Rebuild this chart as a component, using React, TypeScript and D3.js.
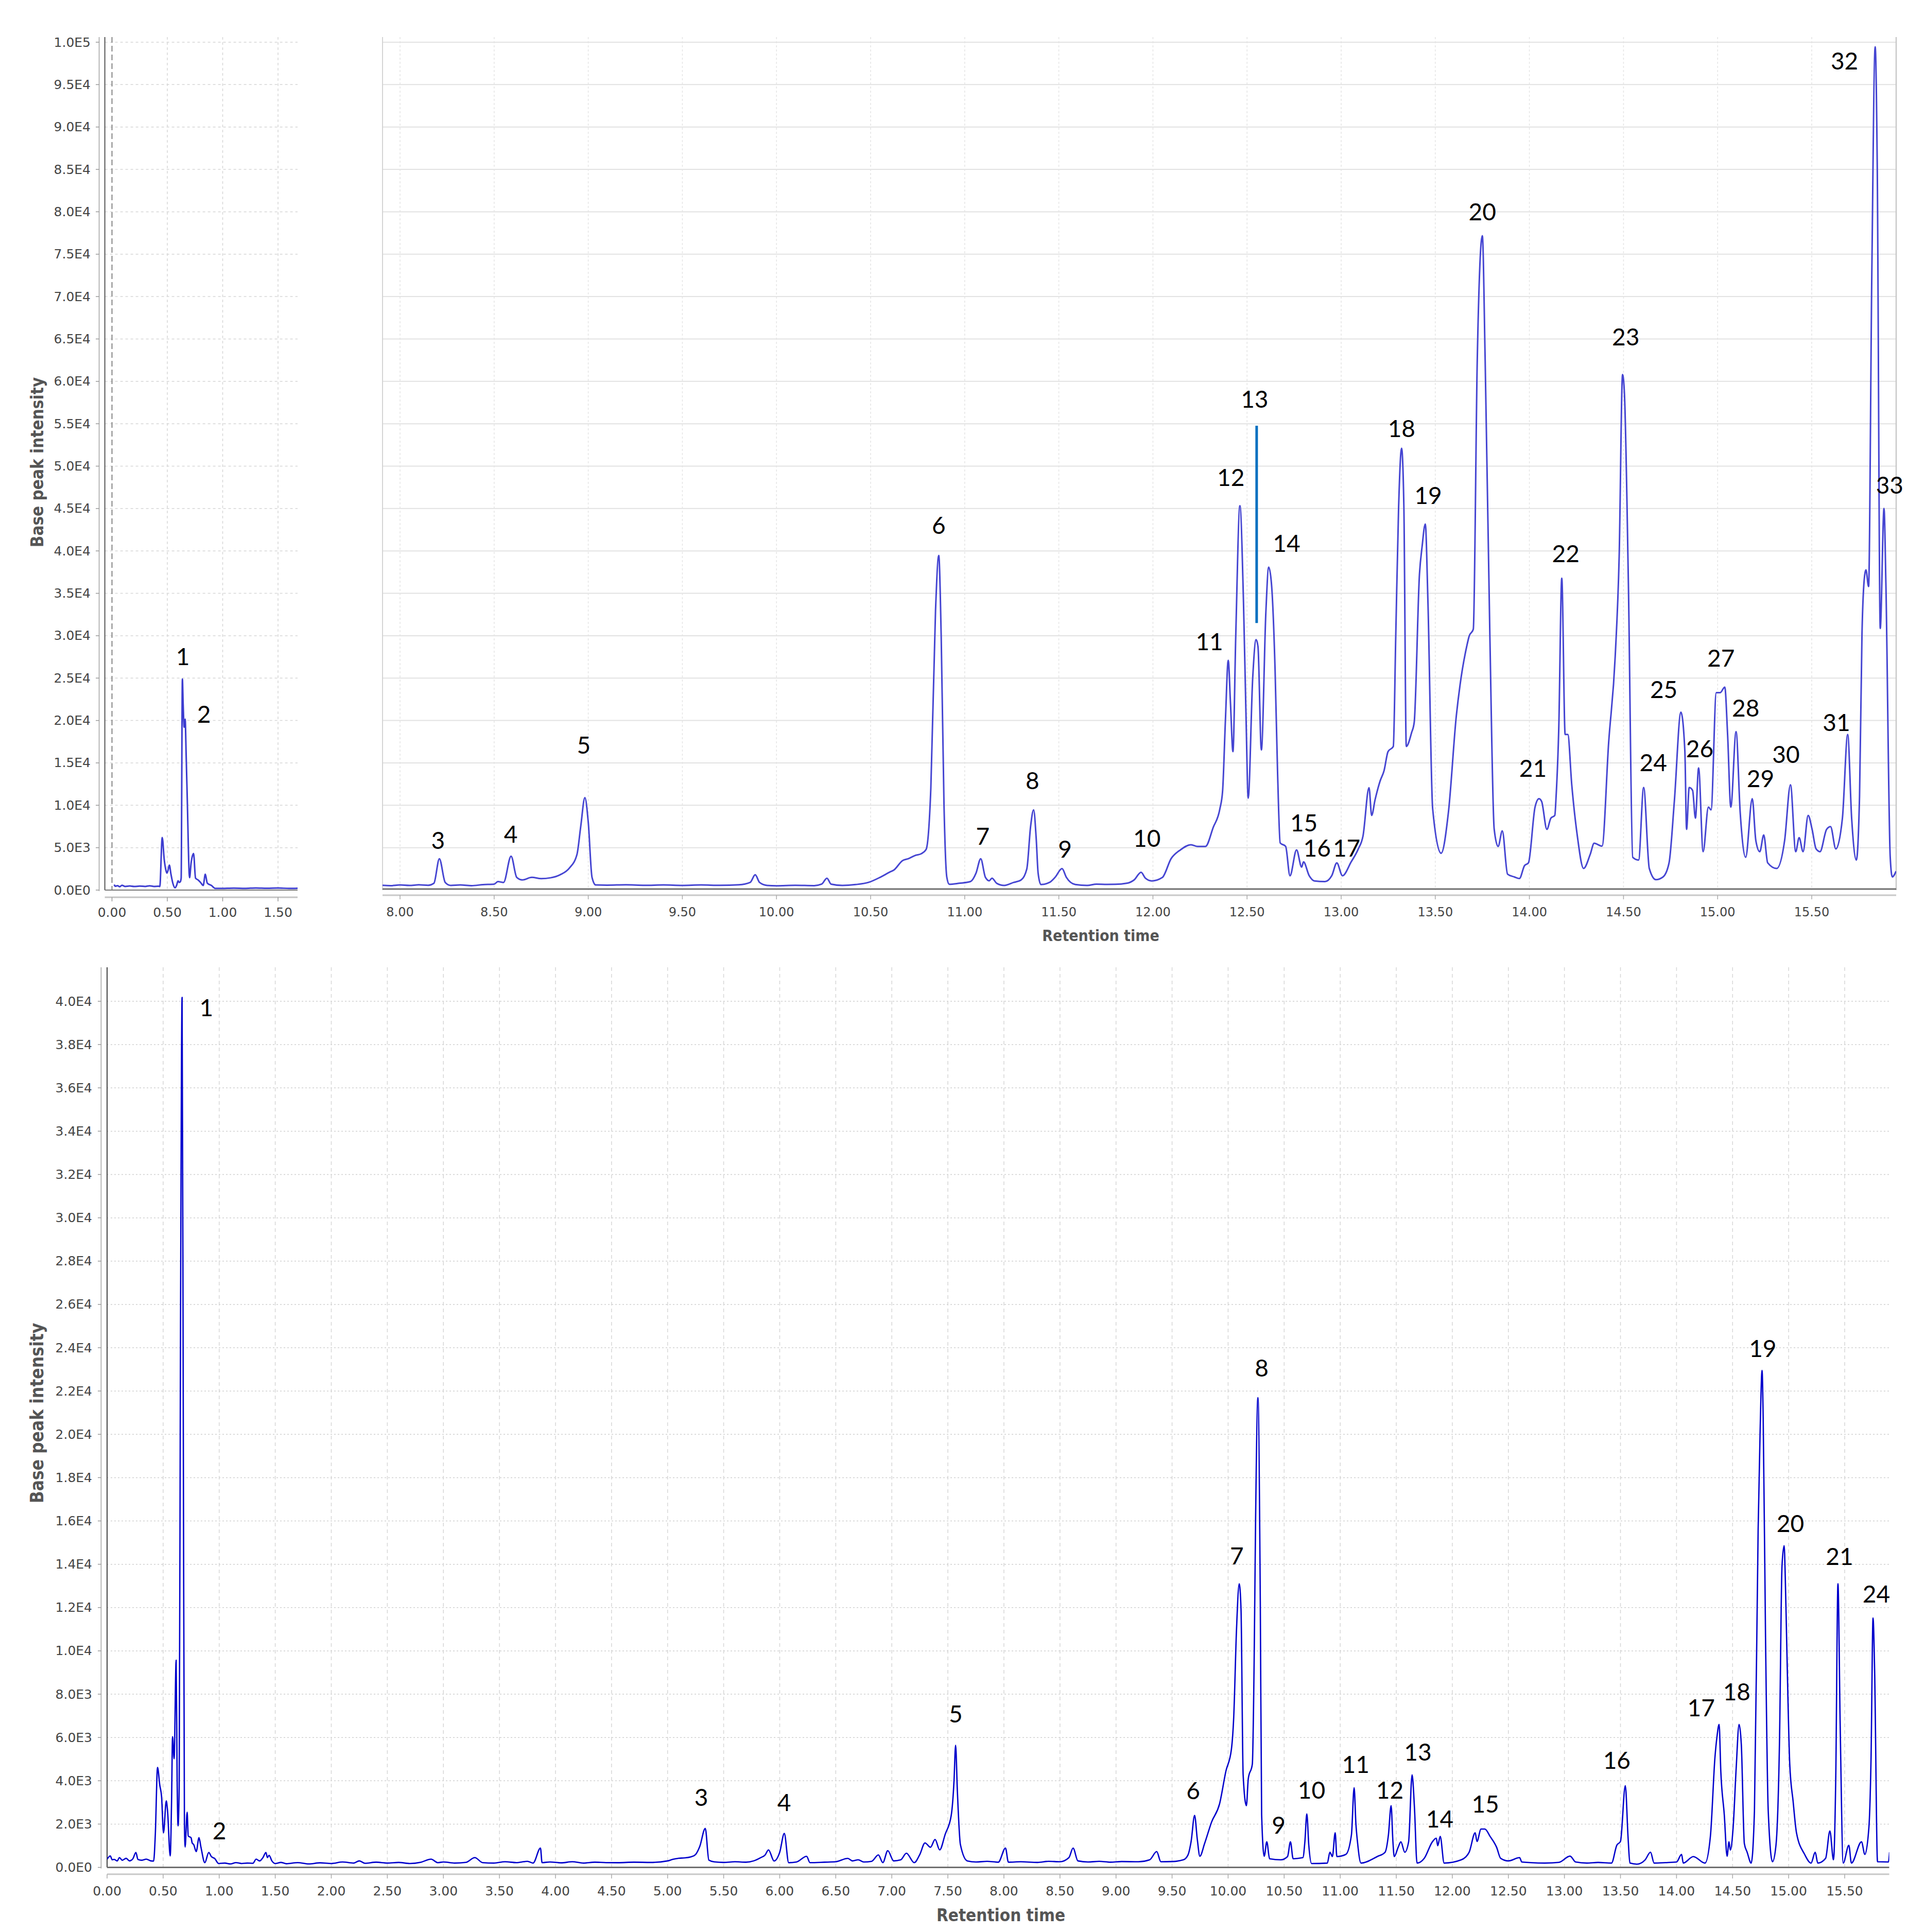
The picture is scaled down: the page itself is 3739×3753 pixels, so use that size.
import React, { useEffect } from "react";
import * as d3 from "d3";

type P = [number, number];

// ---------- DATA ----------
// Top chromatogram, 0–1.7 min window  [time (min), base peak intensity]
const topEarlyTrace: P[] = [
  [0.02, 650], [0.03, 450], [0.05, 520], [0.07, 400], [0.09, 560], [0.12, 430], [0.16, 480], [0.2, 420],
  [0.25, 470], [0.3, 430], [0.34, 500], [0.38, 430], [0.42, 450], [0.432, 430], [0.454, 6200], [0.472, 3600],
  [0.486, 2410], [0.496, 2000], [0.506, 2300], [0.518, 2950], [0.533, 1860], [0.55, 800], [0.57, 270],
  [0.585, 600], [0.597, 1090], [0.607, 900], [0.616, 960], [0.625, 1400], [0.636, 24900], [0.643, 21900],
  [0.652, 19200], [0.661, 20160], [0.67, 15960], [0.679, 11350], [0.701, 1460], [0.715, 3220], [0.737, 4310],
  [0.755, 1400], [0.778, 1190], [0.8, 900], [0.824, 540], [0.843, 1860], [0.861, 820], [0.898, 540],
  [0.935, 190], [1.0, 200], [1.1, 230], [1.2, 200], [1.3, 250], [1.4, 210], [1.5, 240], [1.6, 200], [1.677, 220],
];

// Top chromatogram, 7.9–15.95 min window
const topLateTrace: P[] = [
  [7.907, 560], [7.95, 520], [8.0, 600], [8.05, 540], [8.1, 620], [8.15, 560], [8.18, 800], [8.209, 3690],
  [8.24, 900], [8.27, 550], [8.32, 600], [8.38, 520], [8.44, 640], [8.5, 700], [8.52, 1000], [8.55, 900],
  [8.59, 3990], [8.62, 1500], [8.65, 1200], [8.7, 1500], [8.75, 1350], [8.8, 1450], [8.85, 1800], [8.9, 2600],
  [8.94, 4200], [8.96, 7500], [8.982, 10900], [9.0, 8000], [9.02, 1500], [9.04, 600], [9.1, 580], [9.2, 620],
  [9.3, 560], [9.4, 600], [9.5, 550], [9.6, 600], [9.7, 560], [9.8, 620], [9.86, 900], [9.887, 1800],
  [9.91, 900], [9.95, 550], [10.0, 500], [10.1, 560], [10.2, 520], [10.24, 700], [10.268, 1400], [10.29, 700],
  [10.35, 550], [10.42, 650], [10.488, 900], [10.55, 1500], [10.6, 2100], [10.624, 2370], [10.67, 3480],
  [10.7, 3700], [10.738, 4090], [10.77, 4300], [10.795, 4800], [10.82, 12000], [10.845, 33000], [10.862, 39460],
  [10.875, 30000], [10.89, 10000], [10.905, 1500], [10.918, 680], [10.97, 800], [11.03, 1000], [11.06, 2000],
  [11.085, 3690], [11.11, 1500], [11.13, 1100], [11.145, 1400], [11.17, 800], [11.21, 550], [11.26, 900],
  [11.3, 1200], [11.33, 2500], [11.35, 7500], [11.366, 9460], [11.38, 6000], [11.39, 2000], [11.405, 650],
  [11.45, 900], [11.48, 1500], [11.517, 2530], [11.54, 1500], [11.588, 650], [11.65, 550], [11.7, 700],
  [11.756, 674], [11.8, 680], [11.86, 800], [11.9, 1200], [11.937, 2100], [11.96, 1400], [11.993, 1080],
  [12.05, 1490], [12.097, 3730], [12.146, 4740], [12.202, 5350], [12.237, 5150], [12.279, 5150], [12.32, 7380],
  [12.356, 9620], [12.37, 11660], [12.385, 20000], [12.4, 27100], [12.412, 22000], [12.425, 16330],
  [12.44, 30000], [12.462, 45320], [12.481, 34010], [12.495, 20000], [12.506, 10840], [12.53, 25000],
  [12.548, 29540], [12.558, 28740], [12.576, 16530], [12.6, 32800], [12.615, 38080], [12.63, 36050],
  [12.649, 25880], [12.662, 14000], [12.676, 5560], [12.705, 5150], [12.728, 1690], [12.763, 4740],
  [12.79, 2710], [12.8, 3320], [12.83, 1700], [12.858, 1080], [12.914, 1000], [12.95, 1700], [12.977, 3200],
  [13.007, 1690], [13.053, 3320], [13.09, 4800], [13.116, 6380], [13.148, 12060], [13.162, 8810],
  [13.18, 10640], [13.207, 12870], [13.228, 14100], [13.249, 16330], [13.277, 16940], [13.29, 29950],
  [13.305, 45000], [13.321, 52110], [13.333, 45400], [13.346, 16940], [13.374, 18560], [13.388, 19780],
  [13.416, 37270], [13.43, 40520], [13.447, 43170], [13.461, 34010], [13.486, 9620], [13.531, 4340],
  [13.57, 9220], [13.612, 20600], [13.632, 24260], [13.667, 28740], [13.68, 29950], [13.702, 30770],
  [13.723, 62480], [13.75, 77170], [13.765, 62480], [13.79, 30000], [13.813, 7180], [13.834, 5150],
  [13.856, 6980], [13.884, 1880], [13.92, 1550], [13.947, 1360], [13.974, 2880], [13.995, 3210], [14.03, 9790],
  [14.051, 10780], [14.065, 10450], [14.093, 7160], [14.114, 8480], [14.135, 8810], [14.142, 11100],
  [14.156, 19010], [14.172, 36780], [14.19, 18350], [14.204, 18350], [14.225, 12430], [14.254, 6500],
  [14.288, 2550], [14.323, 4200], [14.344, 5520], [14.386, 5190], [14.421, 17370], [14.456, 27600],
  [14.477, 39400], [14.495, 60800], [14.505, 58500], [14.526, 36100], [14.549, 3860], [14.58, 3540],
  [14.607, 12100], [14.637, 2550], [14.672, 1230], [14.71, 1550], [14.742, 3210], [14.77, 10450],
  [14.805, 20980], [14.826, 16380], [14.835, 7160], [14.849, 12100], [14.867, 11760], [14.882, 8480],
  [14.899, 14400], [14.923, 4530], [14.951, 9790], [14.965, 9460], [14.993, 23290], [15.014, 23290],
  [15.038, 23940], [15.053, 18350], [15.07, 9790], [15.098, 18680], [15.12, 9130], [15.149, 3870],
  [15.184, 10780], [15.203, 5850], [15.224, 4530], [15.245, 6500], [15.266, 3210], [15.314, 2550],
  [15.356, 5850], [15.387, 12420], [15.415, 4530], [15.433, 6180], [15.454, 4530], [15.481, 8810],
  [15.502, 7160], [15.523, 4860], [15.544, 4530], [15.579, 7160], [15.6, 7480], [15.628, 4860],
  [15.663, 8480], [15.691, 18350], [15.712, 8480], [15.737, 3540], [15.754, 11100], [15.767, 30200],
  [15.781, 37100], [15.788, 37770], [15.802, 35800], [15.819, 72320], [15.837, 99450], [15.848, 85500],
  [15.864, 30860], [15.884, 45000], [15.894, 36100], [15.917, 3870], [15.928, 1550], [15.948, 2220],
];

// Bottom chromatogram, 0–15.9 min
const bottomTrace: P[] = [
  [0, 380], [0.029, 530], [0.045, 350], [0.064, 370], [0.09, 300], [0.11, 450], [0.135, 330], [0.17, 420],
  [0.2, 300], [0.23, 400], [0.257, 690], [0.275, 370], [0.31, 330], [0.35, 380], [0.39, 300], [0.415, 290],
  [0.43, 1500], [0.45, 4615], [0.47, 3800], [0.486, 3270], [0.503, 1600], [0.528, 3070], [0.539, 2630],
  [0.563, 530], [0.575, 3000], [0.584, 6040], [0.598, 5020], [0.616, 9570], [0.625, 4000], [0.633, 1920],
  [0.643, 3660], [0.655, 25000], [0.669, 40180], [0.68, 20000], [0.69, 2000], [0.696, 940], [0.714, 2550],
  [0.724, 1450], [0.749, 1370], [0.759, 1130], [0.773, 1050], [0.795, 730], [0.82, 1370], [0.837, 940],
  [0.872, 220], [0.907, 690], [0.93, 500], [0.96, 410], [0.995, 180], [1.05, 200], [1.1, 160], [1.15, 220],
  [1.2, 180], [1.25, 200], [1.3, 190], [1.33, 380], [1.36, 300], [1.39, 450], [1.417, 690], [1.43, 450],
  [1.445, 560], [1.47, 300], [1.5, 180], [1.55, 230], [1.6, 170], [1.7, 220], [1.8, 160], [1.9, 210],
  [2.0, 180], [2.1, 250], [2.2, 200], [2.25, 300], [2.3, 190], [2.4, 240], [2.5, 200], [2.6, 230], [2.7, 180],
  [2.8, 240], [2.89, 380], [2.95, 220], [3.0, 250], [3.1, 200], [3.2, 230], [3.28, 450], [3.35, 220],
  [3.45, 200], [3.55, 260], [3.65, 220], [3.75, 280], [3.8, 200], [3.866, 890], [3.88, 220], [3.95, 250],
  [4.05, 210], [4.15, 260], [4.25, 200], [4.35, 240], [4.45, 220], [4.557, 218], [4.7, 240], [4.85, 230],
  [5.0, 300], [5.048, 376], [5.1, 420], [5.15, 440], [5.213, 495], [5.25, 600], [5.287, 970], [5.336, 1800],
  [5.368, 337], [5.417, 257], [5.5, 230], [5.6, 260], [5.7, 240], [5.767, 300], [5.83, 450], [5.87, 575],
  [5.9, 810], [5.95, 297], [6.0, 700], [6.041, 1565], [6.08, 218], [6.15, 250], [6.24, 510], [6.27, 220],
  [6.4, 240], [6.5, 260], [6.607, 416], [6.65, 300], [6.7, 350], [6.75, 250], [6.82, 280], [6.88, 575],
  [6.92, 220], [6.964, 772], [7.017, 300], [7.08, 350], [7.13, 653], [7.2, 220], [7.25, 600], [7.296, 1130],
  [7.345, 930], [7.386, 1290], [7.427, 810], [7.476, 1525], [7.53, 2400], [7.555, 4000], [7.569, 5640],
  [7.585, 3500], [7.612, 1050], [7.674, 297], [7.75, 250], [7.85, 280], [7.95, 240], [8.014, 890],
  [8.04, 240], [8.15, 260], [8.3, 230], [8.4, 280], [8.5, 260], [8.58, 450], [8.617, 890], [8.66, 300],
  [8.75, 250], [8.85, 280], [8.95, 240], [9.05, 270], [9.2, 260], [9.3, 350], [9.363, 730], [9.4, 260],
  [9.5, 270], [9.6, 350], [9.642, 575], [9.67, 1200], [9.701, 2400], [9.725, 1300], [9.748, 516],
  [9.79, 1100], [9.853, 2100], [9.924, 2940], [9.98, 4440], [10.029, 5440], [10.05, 6940], [10.075, 11000],
  [10.099, 13100], [10.115, 11940], [10.134, 4270], [10.163, 2850], [10.18, 4100], [10.216, 4770],
  [10.232, 9440], [10.245, 16000], [10.266, 21690], [10.287, 12280], [10.299, 2440], [10.322, 516],
  [10.345, 1180], [10.37, 400], [10.47, 350], [10.53, 500], [10.556, 1180], [10.58, 400], [10.667, 450],
  [10.685, 1200], [10.702, 2470], [10.72, 1000], [10.744, 180], [10.885, 200], [10.908, 700], [10.93, 500],
  [10.955, 1600], [10.97, 500], [11.05, 600], [11.1, 1500], [11.124, 3680], [11.14, 2000], [11.154, 1180],
  [11.185, 200], [11.33, 500], [11.4, 700], [11.43, 1500], [11.454, 2850], [11.47, 1200], [11.482, 500],
  [11.517, 930], [11.541, 1180], [11.576, 700], [11.61, 1180], [11.641, 4270], [11.662, 2780],
  [11.685, 200], [11.75, 420], [11.822, 1180], [11.857, 1350], [11.87, 1000], [11.892, 1430], [11.927, 200],
  [12.08, 350], [12.15, 700], [12.204, 1600], [12.22, 1200], [12.256, 1770], [12.29, 1770], [12.337, 1430],
  [12.395, 930], [12.431, 420], [12.5, 300], [12.6, 450], [12.62, 250], [12.7, 220], [12.825, 200],
  [12.95, 230], [13.05, 520], [13.1, 250], [13.2, 200], [13.3, 230], [13.42, 200], [13.467, 1020],
  [13.5, 1200], [13.543, 3770], [13.568, 1350], [13.584, 200], [13.646, 150], [13.72, 350], [13.768, 700],
  [13.8, 200], [13.9, 220], [14.0, 250], [14.045, 600], [14.06, 200], [14.15, 500], [14.254, 200],
  [14.302, 1430], [14.343, 5100], [14.36, 6000], [14.38, 6600], [14.395, 4440], [14.426, 2430],
  [14.451, 520], [14.468, 1180], [14.48, 800], [14.505, 1850], [14.532, 4570], [14.558, 6600],
  [14.578, 5670], [14.605, 1100], [14.63, 700], [14.666, 200], [14.695, 2610], [14.728, 15600],
  [14.745, 20000], [14.763, 22950], [14.773, 20750], [14.794, 10600], [14.818, 2610], [14.856, 260],
  [14.887, 1020], [14.918, 5670], [14.941, 13940], [14.96, 14860], [14.97, 13400], [14.984, 10100],
  [15.01, 4770], [15.04, 3050], [15.07, 1600], [15.143, 600], [15.2, 200], [15.237, 700], [15.26, 200],
  [15.33, 420], [15.368, 1680], [15.4, 350], [15.42, 4000], [15.44, 13100], [15.46, 6500], [15.487, 200],
  [15.537, 1020], [15.56, 200], [15.65, 1180], [15.68, 600], [15.716, 1850], [15.735, 5000],
  [15.753, 11520], [15.767, 9100], [15.793, 260], [15.89, 250], [15.9, 700],
];

// Peak labels: [label, time, intensity at label centre]
const topEarlyLabels: [string, number, number][] = [["1", 0.64, 27570], ["2", 0.831, 20770]];
const topLateLabels: [string, number, number][] = [
  ["3", 8.202, 5910], ["4", 8.588, 6620], ["5", 8.976, 17180], ["6", 10.862, 43100], ["7", 11.096, 6420],
  ["8", 11.36, 12960], ["9", 11.533, 4900], ["10", 11.968, 6160], ["11", 12.3, 29340], ["12", 12.414, 48740],
  ["13", 12.54, 57930], ["14", 12.71, 40930], ["15", 12.802, 8000], ["16", 12.872, 5000], ["17", 13.029, 5000],
  ["18", 13.321, 54470], ["19", 13.462, 46620], ["20", 13.75, 80080], ["21", 14.019, 14400],
  ["22", 14.193, 39740], ["23", 14.512, 65280], ["24", 14.658, 15060], ["25", 14.714, 23740],
  ["26", 14.905, 16700], ["27", 15.018, 27430], ["28", 15.149, 21500], ["29", 15.228, 13210],
  ["30", 15.363, 16040], ["31", 15.631, 19800], ["32", 15.674, 97870], ["33", 15.914, 47840],
];
// marker bar for peak 13: [time, from intensity, to intensity]
const peak13Marker: [number, number, number] = [12.551, 54760, 31500];

const bottomLabels: [string, number, number][] = [
  ["1", 0.886, 39730], ["2", 1.002, 1720], ["3", 5.3, 3250], ["4", 6.04, 3020], ["5", 7.57, 7120],
  ["6", 9.689, 3570], ["7", 10.078, 14410], ["8", 10.299, 23080], ["9", 10.451, 1970], ["10", 10.744, 3600],
  ["11", 11.138, 4770], ["12", 11.442, 3600], ["13", 11.693, 5350], ["14", 11.888, 2270], ["15", 12.295, 2940],
  ["16", 13.467, 4980], ["17", 14.22, 7390], ["18", 14.537, 8140], ["19", 14.769, 24000], ["20", 15.015, 15900],
  ["21", 15.454, 14390], ["24", 15.782, 12640],
];

// Tick values
const topIntensityTicks = [0, 5000, 10000, 15000, 20000, 25000, 30000, 35000, 40000, 45000, 50000, 55000,
  60000, 65000, 70000, 75000, 80000, 85000, 90000, 95000, 100000];
const bottomIntensityTicks = [0, 2000, 4000, 6000, 8000, 10000, 12000, 14000, 16000, 18000, 20000, 22000,
  24000, 26000, 28000, 30000, 32000, 34000, 36000, 38000, 40000];
const topEarlyTimeTicks = [0, 0.5, 1.0, 1.5];
const topLateTimeTicks = [8.0, 8.5, 9.0, 9.5, 10.0, 10.5, 11.0, 11.5, 12.0, 12.5, 13.0, 13.5, 14.0, 14.5, 15.0, 15.5];
const bottomTimeTicks = [0, 0.5, 1.0, 1.5, 2.0, 2.5, 3.0, 3.5, 4.0, 4.5, 5.0, 5.5, 6.0, 6.5, 7.0, 7.5, 8.0,
  8.5, 9.0, 9.5, 10.0, 10.5, 11.0, 11.5, 12.0, 12.5, 13.0, 13.5, 14.0, 14.5, 15.0, 15.5];

const yTitle = "Base peak intensity";
const xTitle = "Retention time";

// ---------- LAYOUT ----------
const W = 3739;
const H = 3753;

const fmtE = (v: number) => {
  if (v === 0) return "0.0E0";
  const e = Math.floor(Math.log10(v) + 1e-9);
  return (v / Math.pow(10, e)).toFixed(1) + "E" + e;
};
const fmtT = (t: number) => t.toFixed(2);

const TICK_FONT = "'DejaVu Sans', Verdana, sans-serif";
const TITLE_FONT = "'DejaVu Sans Condensed', 'DejaVu Sans', sans-serif";
const PEAK_FONT = "Lato, 'Open Sans', sans-serif";

export default function App() {
  useEffect(() => {
    document.body.style.margin = "0";
  }, []);

  // top panel
  const yTop = d3.scaleLinear().domain([0, 100000]).range([1729, 82]);
  const topPlotTop = 72;
  const xE = d3.scaleLinear().domain([0, 1.5]).range([217.5, 540]);
  const eL = 203.6, eR = 578;
  const xL = d3.scaleLinear().domain([8, 15.5]).range([777, 3519]);
  const lL = 743, lR = 3683;
  // bottom panel
  const yB = d3.scaleLinear().domain([0, 40000]).range([3627.5, 1945]);
  const botPlotTop = 1879;
  const xB = d3.scaleLinear().domain([0, 15.5]).range([208, 3583]);
  const bL = 208, bR = 3669.5;

  const lineE = d3.line<P>().x((d) => xE(d[0])).y((d) => yTop(d[1])).curve(d3.curveMonotoneX);
  const lineL = d3.line<P>().x((d) => xL(d[0])).y((d) => yTop(d[1])).curve(d3.curveMonotoneX);
  const lineB = d3.line<P>().x((d) => xB(d[0])).y((d) => yB(d[1])).curve(d3.curveMonotoneX);

  const y0T = yTop(0);
  const y0B = yB(0);

  const peakText = (lab: [string, number, number], xs: any, ys: any, key: string) => (
    <text
      key={key}
      x={xs(lab[1])}
      y={ys(lab[2])}
      textAnchor="middle"
      dominantBaseline="central"
      fontFamily={PEAK_FONT}
      fontSize={46}
      fill="#000"
    >
      {lab[0]}
    </text>
  );

  return (
    <svg width={W} height={H} style={{ display: "block", background: "#fff" }}>
      <defs>
        <clipPath id="clipE"><rect x={eL} y={topPlotTop} width={eR - eL} height={y0T - topPlotTop + 4} /></clipPath>
        <clipPath id="clipL"><rect x={lL} y={topPlotTop} width={lR - lL} height={y0T - topPlotTop + 4} /></clipPath>
        <clipPath id="clipB"><rect x={bL} y={botPlotTop} width={bR - bL} height={y0B - botPlotTop + 4} /></clipPath>
      </defs>
      <rect x={0} y={0} width={W} height={H} fill="#fff" />

      {/* ===== TOP LEFT (early window) ===== */}
      <g>
        {topIntensityTicks.map((v) => (
          <line key={"ehg" + v} x1={eL} x2={eR} y1={yTop(v)} y2={yTop(v)} stroke="#d6d6d6" strokeWidth={1.5} strokeDasharray="5,5" />
        ))}
        {topEarlyTimeTicks.filter((t) => t > 0).map((t) => (
          <line key={"evg" + t} x1={xE(t)} x2={xE(t)} y1={topPlotTop} y2={y0T} stroke="#d6d6d6" strokeWidth={1.5} strokeDasharray="5,5" />
        ))}
        <line x1={xE(0)} x2={xE(0)} y1={topPlotTop} y2={y0T} stroke="#777" strokeWidth={1.8} strokeDasharray="11,6" />
        <line x1={eL} x2={eL} y1={topPlotTop} y2={y0T} stroke="#555" strokeWidth={2} />
        <line x1={192.6} x2={192.6} y1={topPlotTop} y2={y0T + 2} stroke="#b5b5b5" strokeWidth={2} />
        {topIntensityTicks.map((v) => (
          <g key={"eyt" + v}>
            <line x1={186} x2={192.6} y1={yTop(v)} y2={yTop(v)} stroke="#999" strokeWidth={1.5} />
            <text x={176} y={yTop(v)} textAnchor="end" dominantBaseline="central" fontFamily={TICK_FONT} fontSize={25} fill="#444">
              {fmtE(v)}
            </text>
          </g>
        ))}
        <line x1={eL} x2={eR} y1={y0T} y2={y0T} stroke="#777" strokeWidth={2} />
        <line x1={eL} x2={eR} y1={1743} y2={1743} stroke="#c4c4c4" strokeWidth={3} />
        {topEarlyTimeTicks.map((t) => (
          <g key={"ext" + t}>
            <line x1={xE(t)} x2={xE(t)} y1={1743} y2={1751} stroke="#999" strokeWidth={1.5} />
            <text x={xE(t)} y={1772} textAnchor="middle" dominantBaseline="central" fontFamily={TICK_FONT} fontSize={25} fill="#444">
              {fmtT(t)}
            </text>
          </g>
        ))}
        <path d={lineE(topEarlyTrace) || ""} fill="none" stroke="#3c3cd0" strokeWidth={3} strokeLinejoin="round" clipPath="url(#clipE)" />
        {topEarlyLabels.map((l, i) => peakText(l, xE, yTop, "el" + i))}
      </g>

      {/* ===== TOP RIGHT (late window) ===== */}
      <g>
        {topIntensityTicks.filter((v) => v > 0).map((v) => (
          <line key={"lhg" + v} x1={lL} x2={lR} y1={yTop(v)} y2={yTop(v)} stroke="#e2e2e2" strokeWidth={2} />
        ))}
        {topLateTimeTicks.map((t) => (
          <line key={"lvg" + t} x1={xL(t)} x2={xL(t)} y1={topPlotTop} y2={y0T} stroke="#e4e4e4" strokeWidth={1.5} strokeDasharray="4,4" />
        ))}
        <line x1={lL} x2={lL} y1={topPlotTop} y2={y0T} stroke="#d4d4d4" strokeWidth={2} />
        <line x1={lR} x2={lR} y1={topPlotTop} y2={y0T} stroke="#c8c8c8" strokeWidth={2.5} />
        <line x1={lL} x2={lR} y1={y0T - 2} y2={y0T - 2} stroke="#707070" strokeWidth={3} />
        <line x1={lL} x2={lR} y1={1739} y2={1739} stroke="#c8c8c8" strokeWidth={3} />
        {topLateTimeTicks.map((t) => (
          <g key={"lxt" + t}>
            <line x1={xL(t)} x2={xL(t)} y1={1739} y2={1747} stroke="#aaa" strokeWidth={1.5} />
            <text x={xL(t)} y={1772} textAnchor="middle" dominantBaseline="central" fontFamily={TICK_FONT} fontSize={24} fill="#444">
              {fmtT(t)}
            </text>
          </g>
        ))}
        <path d={lineL(topLateTrace) || ""} fill="none" stroke="#4545d2" strokeWidth={3} strokeLinejoin="round" clipPath="url(#clipL)" />
        <line
          x1={xL(peak13Marker[0])}
          x2={xL(peak13Marker[0])}
          y1={yTop(peak13Marker[1])}
          y2={yTop(peak13Marker[2])}
          stroke="#0070c0"
          strokeWidth={5}
        />
        {topLateLabels.map((l, i) => peakText(l, xL, yTop, "ll" + i))}
        <text x={2138} y={1817} textAnchor="middle" dominantBaseline="central" fontFamily={TITLE_FONT} fontWeight="bold" fontSize={30} fill="#555">
          {xTitle}
        </text>
      </g>
      <text
        transform={`translate(72,898) rotate(-90)`}
        textAnchor="middle"
        dominantBaseline="central"
        fontFamily={TITLE_FONT}
        fontWeight="bold"
        fontSize={33}
        fill="#555"
      >
        {yTitle}
      </text>

      {/* ===== BOTTOM ===== */}
      <g>
        {bottomIntensityTicks.map((v) => (
          <line key={"bhg" + v} x1={bL} x2={bR} y1={yB(v)} y2={yB(v)} stroke="#d0d0d0" strokeWidth={1.5} strokeDasharray="3,4" />
        ))}
        {bottomTimeTicks.filter((t) => t > 0).map((t) => (
          <line key={"bvg" + t} x1={xB(t)} x2={xB(t)} y1={botPlotTop} y2={y0B} stroke="#d6d6d6" strokeWidth={1.5} strokeDasharray="7,6" />
        ))}
        <line x1={bL} x2={bL} y1={botPlotTop} y2={y0B} stroke="#444" strokeWidth={2} />
        <line x1={196.4} x2={196.4} y1={botPlotTop} y2={y0B + 2} stroke="#b5b5b5" strokeWidth={2} />
        {bottomIntensityTicks.map((v) => (
          <g key={"byt" + v}>
            <line x1={190} x2={196.4} y1={yB(v)} y2={yB(v)} stroke="#999" strokeWidth={1.5} />
            <text x={179} y={yB(v)} textAnchor="end" dominantBaseline="central" fontFamily={TICK_FONT} fontSize={25} fill="#444">
              {fmtE(v)}
            </text>
          </g>
        ))}
        <line x1={bL} x2={bR} y1={y0B} y2={y0B} stroke="#707070" strokeWidth={3} />
        <line x1={bL} x2={bR} y1={3640.7} y2={3640.7} stroke="#c8c8c8" strokeWidth={3} />
        {bottomTimeTicks.map((t) => (
          <g key={"bxt" + t}>
            <line x1={xB(t)} x2={xB(t)} y1={3640.7} y2={3649} stroke="#aaa" strokeWidth={1.5} />
            <text x={xB(t)} y={3673} textAnchor="middle" dominantBaseline="central" fontFamily={TICK_FONT} fontSize={25} fill="#444">
              {fmtT(t)}
            </text>
          </g>
        ))}
        <path d={lineB(bottomTrace) || ""} fill="none" stroke="#0000cc" strokeWidth={2.6} strokeLinejoin="round" clipPath="url(#clipB)" />
        {bottomLabels.map((l, i) => peakText(l, xB, yB, "bl" + i))}
        <text x={1944} y={3720} textAnchor="middle" dominantBaseline="central" fontFamily={TITLE_FONT} fontWeight="bold" fontSize={33} fill="#555">
          {xTitle}
        </text>
        <text
          transform={`translate(72,2745) rotate(-90)`}
          textAnchor="middle"
          dominantBaseline="central"
          fontFamily={TITLE_FONT}
          fontWeight="bold"
          fontSize={35}
          fill="#555"
        >
          {yTitle}
        </text>
      </g>
    </svg>
  );
}
